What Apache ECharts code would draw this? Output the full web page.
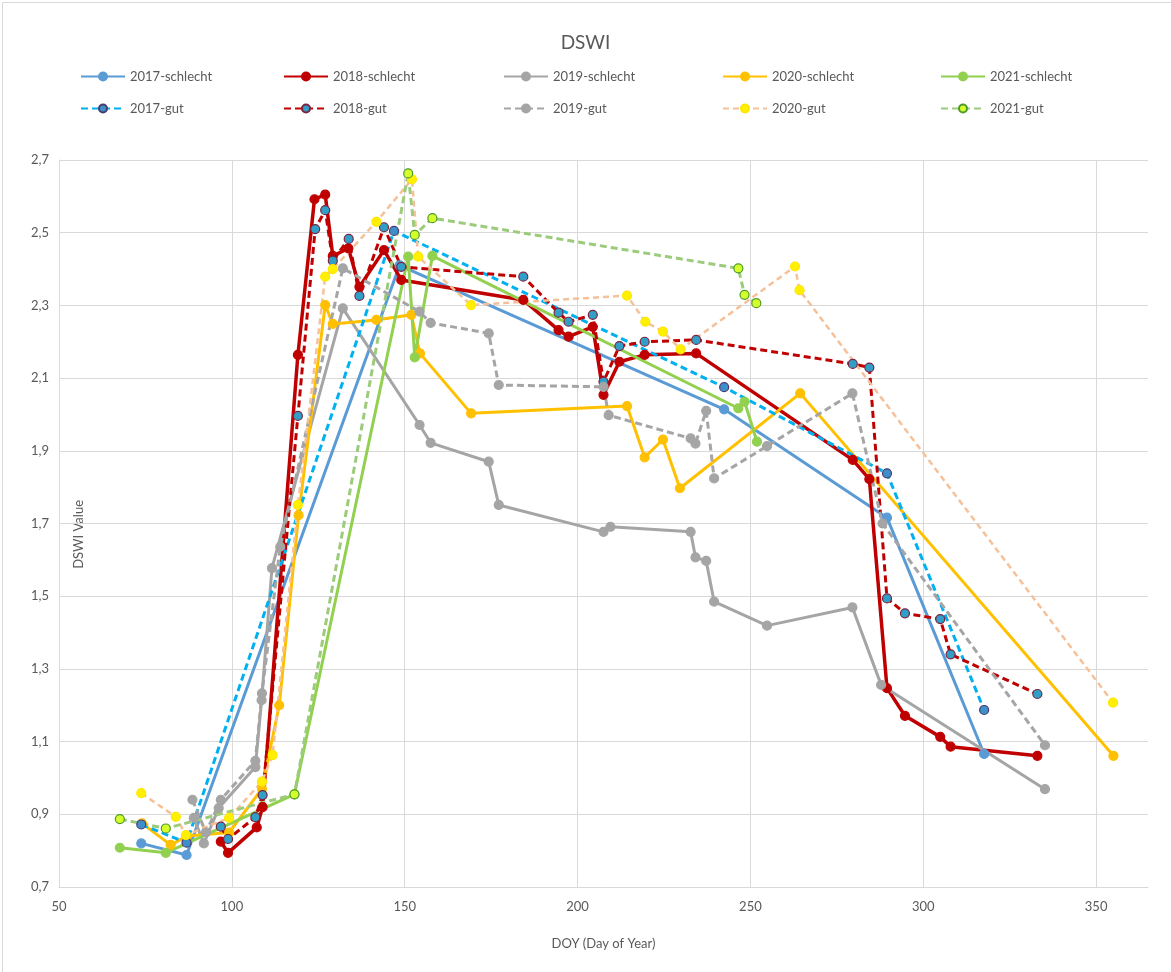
<!DOCTYPE html>
<html>
<head>
<meta charset="utf-8">
<script src="https://cdn.jsdelivr.net/npm/echarts@6/dist/echarts.min.js"></script>
<style>
html,body{margin:0;padding:0;background:#fff;}
#chart{width:1171px;height:972px;}
</style>
</head>
<body>
<div id="chart"></div>
<script>
// ---- data (DOY, DSWI) ----
const doy2017s = [73.8, 86.9, 148.5, 242.4, 289.5, 317.6];
const val2017s = [0.82, 0.788, 2.41, 2.014, 1.716, 1.066];

const doy2018s = [96.8, 98.9, 107.2, 108.9, 119.1, 123.9, 127.0, 129.2, 133.7, 136.9, 144.0, 149.0, 184.3, 194.5, 197.4, 204.4, 207.5, 212.1, 219.4, 234.3, 279.6, 284.4, 289.5, 294.7, 304.9, 307.9, 333.0];
const val2018s = [0.825, 0.794, 0.864, 0.92, 2.164, 2.592, 2.605, 2.436, 2.457, 2.351, 2.452, 2.37, 2.315, 2.232, 2.214, 2.241, 2.054, 2.145, 2.164, 2.168, 1.875, 1.822, 1.247, 1.171, 1.113, 1.086, 1.061];

const doy2019s = [89.0, 91.9, 96.2, 106.8, 108.6, 111.6, 132.1, 154.3, 157.5, 174.3, 177.2, 207.5, 209.5, 232.7, 234.1, 237.2, 239.5, 254.8, 279.5, 287.8, 335.2];
const val2019s = [0.89, 0.82, 0.917, 1.03, 1.214, 1.577, 2.292, 1.971, 1.922, 1.87, 1.751, 1.677, 1.691, 1.677, 1.607, 1.597, 1.485, 1.419, 1.469, 1.256, 0.969];

const doy2020s = [74.0, 82.3, 87.0, 99.2, 108.7, 113.7, 119.3, 127.0, 129.2, 141.8, 151.9, 154.4, 169.2, 214.3, 219.4, 224.7, 229.6, 264.4, 355.0];
const val2020s = [0.875, 0.816, 0.84, 0.85, 0.97, 1.2, 1.723, 2.301, 2.249, 2.26, 2.274, 2.168, 2.003, 2.023, 1.882, 1.931, 1.797, 2.058, 1.061];

const doy2021s = [67.6, 80.9, 118.1, 151.0, 152.9, 158.0, 246.5, 248.3, 251.9];
const val2021s = [0.808, 0.794, 0.955, 2.434, 2.157, 2.436, 2.017, 2.035, 1.925];

const doy2017g = [73.8, 86.9, 146.9, 242.4, 289.5, 317.6];
const val2017g = [0.872, 0.822, 2.505, 2.075, 1.838, 1.187];

const doy2018g = [96.8, 98.9, 106.8, 108.9, 119.1, 124.1, 127.0, 129.2, 133.8, 136.9, 144.0, 149.0, 184.3, 194.5, 197.4, 204.4, 207.5, 212.1, 219.4, 234.3, 279.6, 284.4, 289.5, 294.7, 304.9, 307.9, 333.0];
const val2018g = [0.866, 0.832, 0.892, 0.953, 1.996, 2.51, 2.562, 2.423, 2.483, 2.326, 2.515, 2.406, 2.379, 2.28, 2.255, 2.274, 2.09, 2.188, 2.2, 2.205, 2.139, 2.129, 1.494, 1.453, 1.437, 1.34, 1.231];

const doy2019g = [88.6, 92.5, 96.8, 106.8, 108.7, 114.0, 132.1, 154.3, 157.5, 174.3, 177.2, 207.5, 209.0, 232.7, 234.1, 237.2, 239.5, 254.8, 279.5, 288.2, 335.2];
const val2019g = [0.94, 0.85, 0.94, 1.047, 1.233, 1.636, 2.402, 2.283, 2.252, 2.223, 2.081, 2.076, 1.998, 1.934, 1.92, 2.01, 1.824, 1.913, 2.058, 1.70, 1.09];

const doy2020g = [73.8, 83.8, 86.7, 99.2, 108.7, 111.8, 119.1, 127.0, 129.2, 141.8, 152.1, 153.9, 169.2, 214.3, 219.6, 224.7, 229.8, 262.9, 264.2, 354.9];
const val2020g = [0.958, 0.893, 0.843, 0.89, 0.99, 1.063, 1.751, 2.379, 2.4, 2.53, 2.647, 2.434, 2.301, 2.327, 2.255, 2.228, 2.179, 2.407, 2.342, 1.207];

const doy2021g = [67.6, 80.9, 118.1, 151.0, 152.9, 158.0, 246.5, 248.3, 251.7];
const val2021g = [0.887, 0.861, 0.955, 2.663, 2.494, 2.54, 2.402, 2.329, 2.306];

const seriesNames = ['2017-schlecht','2018-schlecht','2019-schlecht','2020-schlecht','2021-schlecht',
                     '2017-gut','2018-gut','2019-gut','2020-gut','2021-gut'];
const xTicks = [50, 100, 150, 200, 250, 300, 350];
const yTicks = [0.7, 0.9, 1.1, 1.3, 1.5, 1.7, 1.9, 2.1, 2.3, 2.5, 2.7];

// ---- styles ----
const FONT = '"Liberation Sans Narrow", Lato, "Open Sans", sans-serif';
const TXT = '#595959';
const styles = {
  '2017-schlecht': {line:'#5B9BD5', type:'solid', w:3, fill:'#5B9BD5', border:'#5B9BD5'},
  '2018-schlecht': {line:'#C00000', type:'solid', w:3.5, fill:'#C00000', border:'#C00000'},
  '2019-schlecht': {line:'#A5A5A5', type:'solid', w:3, fill:'#A5A5A5', border:'#A5A5A5'},
  '2020-schlecht': {line:'#FFC000', type:'solid', w:3, fill:'#FFC000', border:'#FFC000'},
  '2021-schlecht': {line:'#92D050', type:'solid', w:3, fill:'#92D050', border:'#92D050'},
  '2017-gut': {line:'#00B0F0', type:[7,4], w:3, fill:'#3E8FC9', border:'#4A3C70'},
  '2018-gut': {line:'#C00000', type:[7,4], w:3, fill:'#2F9FC8', border:'#7A2440'},
  '2019-gut': {line:'#A5A5A5', type:[7,4], w:3, fill:'#A5A5A5', border:'#A5A5A5'},
  '2020-gut': {line:'#F6C198', type:[6,4], w:2.5, fill:'#FFF000', border:'#FFE600'},
  '2021-gut': {line:'#9CCB7C', type:[7,4], w:3, fill:'#D4FF2A', border:'#4E9A2A'}
};
const dataSets = {
  '2017-schlecht':[doy2017s,val2017s], '2018-schlecht':[doy2018s,val2018s],
  '2019-schlecht':[doy2019s,val2019s], '2020-schlecht':[doy2020s,val2020s],
  '2021-schlecht':[doy2021s,val2021s], '2017-gut':[doy2017g,val2017g],
  '2018-gut':[doy2018g,val2018g], '2019-gut':[doy2019g,val2019g],
  '2020-gut':[doy2020g,val2020g], '2021-gut':[doy2021g,val2021g]
};

const series = seriesNames.map(function(name){
  const s = styles[name];
  const d = dataSets[name];
  return {
    name: name,
    type: 'line',
    data: d[0].map(function(x,i){ return [x, d[1][i]]; }),
    symbol: 'circle',
    symbolSize: 9,
    showSymbol: true,
    lineStyle: {color: s.line, width: s.w, type: s.type},
    itemStyle: {color: s.fill, borderColor: s.border, borderWidth: 1.2},
    emphasis: {disabled: true},
    animation: false
  };
});

// legend: two rows x five columns
const colX = [80, 283, 503, 722, 940];
const rowY = [70, 102];
const legends = seriesNames.map(function(name, i){
  return {
    data: [name],
    left: colX[i % 5],
    top: rowY[Math.floor(i / 5)],
    padding: 0,
    itemWidth: 44,
    itemHeight: 10,
    textStyle: {color: TXT, fontSize: 13, fontFamily: FONT},
    selectedMode: false
  };
});

const chart = echarts.init(document.getElementById('chart'), null, {renderer: 'canvas'});
chart.setOption({
  backgroundColor: '#fff',
  animation: false,
  title: {
    text: 'DSWI', left: 'center', top: 28,
    textStyle: {color: TXT, fontSize: 19, fontWeight: 'normal', fontFamily: FONT}
  },
  legend: legends,
  graphic: [
    {type: 'rect', left: 0, top: 0, shape: {width: 1170, height: 971},
     style: {fill: 'none', stroke: '#D9D9D9', lineWidth: 1}, silent: true},
    {type: 'text', left: 72, top: 500, rotation: Math.PI / 2,
     style: {text: 'DSWI Value', fill: TXT, font: '13px ' + FONT}, silent: true}
  ],
  grid: {left: 59, right: 23, top: 160, bottom: 85, containLabel: false},
  xAxis: {
    type: 'value', min: 50, max: 365, interval: 50,
    name: 'DOY (Day of Year)', nameLocation: 'middle', nameGap: 50,
    nameTextStyle: {color: TXT, fontSize: 13, fontFamily: FONT},
    axisLine: {show: true, lineStyle: {color: '#D9D9D9', width: 1}},
    axisTick: {show: false},
    axisLabel: {color: TXT, fontSize: 13, fontFamily: FONT, margin: 13, showMaxLabel: false,
      formatter: function(v){ return xTicks.indexOf(v) >= 0 ? String(v) : ''; }},
    splitLine: {show: true, showMaxLine: false, lineStyle: {color: '#D9D9D9', width: 1}}
  },
  yAxis: {
    type: 'value', min: 0.7, max: 2.7, interval: 0.2,
    axisLine: {show: true, lineStyle: {color: '#D9D9D9', width: 1}},
    axisTick: {show: false},
    axisLabel: {color: TXT, fontSize: 13, fontFamily: FONT, margin: 10,
      formatter: function(v){
        const t = yTicks.find(function(y){ return Math.abs(y - v) < 1e-6; });
        return t === undefined ? '' : t.toFixed(1).replace('.', ',');
      }},
    splitLine: {show: true, lineStyle: {color: '#D9D9D9', width: 1}}
  },
  series: series
});
</script>
</body>
</html>
